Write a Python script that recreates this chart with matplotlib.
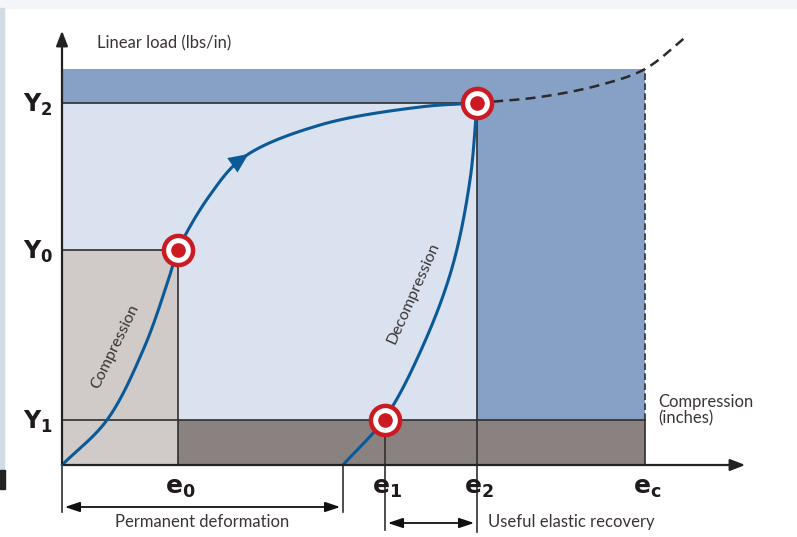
import matplotlib
matplotlib.use("Agg")
import matplotlib.pyplot as plt
from matplotlib.patches import Rectangle
import numpy as np

# strain positions (compression, arbitrary inches) and load levels
e_vals = {"e0": 1.16, "e1": 3.23, "e2": 4.15, "ec": 5.83}
e_perm = 2.81
Y_vals = {"Y1": 0.45, "Y0": 2.15, "Y2": 3.62}
Y_top = 3.96

# curves
comp_x = [0.0, 0.45, 0.82, 1.06, 1.16, 1.48, 1.82, 2.58, 3.58, 4.15]
comp_y = [0.0, 0.45, 1.17, 1.84, 2.15, 2.70, 3.08, 3.40, 3.58, 3.62]
decomp_x = [2.81, 3.23, 3.60, 3.90, 4.08, 4.15]
decomp_y = [0.0, 0.47, 1.17, 1.97, 2.85, 3.62]
dash_x = [4.15, 4.78, 5.38, 5.83, 6.25]
dash_y = [3.62, 3.68, 3.80, 3.96, 4.29]

TXT = "#3b3436"
BLUE = "#0b5a97"
RED = "#cc1a22"
LINE = "#2f2f2f"
plt.rcParams['font.family'] = ['Lato', 'DejaVu Sans']
plt.rcParams['mathtext.fontset'] = 'dejavusans'


def smooth(xs, ys, n=40):
    # centripetal catmull-rom through the read points, only for drawing
    p = np.column_stack([xs, ys]).astype(float)
    p = np.vstack([2 * p[0] - p[1], p, 2 * p[-1] - p[-2]])
    out = []
    for i in range(1, len(p) - 2):
        p0, p1, p2, p3 = p[i - 1], p[i], p[i + 1], p[i + 2]
        t0 = 0.0
        t1 = t0 + max(np.linalg.norm(p1 - p0), 1e-6) ** 0.5
        t2 = t1 + max(np.linalg.norm(p2 - p1), 1e-6) ** 0.5
        t3 = t2 + max(np.linalg.norm(p3 - p2), 1e-6) ** 0.5
        t = np.linspace(t1, t2, n, endpoint=False)[:, None]
        a1 = (t1 - t) / (t1 - t0) * p0 + (t - t0) / (t1 - t0) * p1
        a2 = (t2 - t) / (t2 - t1) * p1 + (t - t1) / (t2 - t1) * p2
        a3 = (t3 - t) / (t3 - t2) * p2 + (t - t2) / (t3 - t2) * p3
        b1 = (t2 - t) / (t2 - t0) * a1 + (t - t0) / (t2 - t0) * a2
        b2 = (t3 - t) / (t3 - t1) * a2 + (t - t1) / (t3 - t1) * a3
        out.append((t2 - t) / (t2 - t1) * b1 + (t - t1) / (t2 - t1) * b2)
    out.append(p[-2][None, :])
    out = np.vstack(out)
    return out[:, 0], out[:, 1]


fig = plt.figure(figsize=(7.97, 5.37), dpi=100)
ax = fig.add_axes([0, 0, 1, 1])
ax.set_xlim(-0.62, 7.35)
ax.set_ylim(-0.72, 4.65)
ax.axis('off')

# page edges
fig.patches.append(Rectangle((0, 0.985), 1, 0.015, transform=fig.transFigure, color="#f3f5f8", zorder=0))
fig.patches.append(Rectangle((0, 0.10), 0.005, 0.885, transform=fig.transFigure, color="#d3dbe5", zorder=0))
fig.patches.append(Rectangle((0, 0.09), 0.006, 0.035, transform=fig.transFigure, color="#222222", zorder=0))

e0, e1, e2, ec = e_vals["e0"], e_vals["e1"], e_vals["e2"], e_vals["ec"]
Y1, Y0, Y2 = Y_vals["Y1"], Y_vals["Y0"], Y_vals["Y2"]

# shaded regions
ax.add_patch(Rectangle((0, Y2), ec, Y_top - Y2, color="#87a0c5", lw=0))
ax.add_patch(Rectangle((0, Y1), e2, Y2 - Y1, color="#dae2ef", lw=0))
ax.add_patch(Rectangle((e2, Y1), ec - e2, Y2 - Y1, color="#87a0c5", lw=0))
ax.add_patch(Rectangle((0, 0), e0, Y0, color="#d0cbc8", lw=0))
ax.add_patch(Rectangle((e0, 0), ec - e0, Y1, color="#8a8280", lw=0))

# grid lines
lw = 1.2
ax.plot([0, e2], [Y2, Y2], color=LINE, lw=lw)
ax.plot([0, e0], [Y0, Y0], color=LINE, lw=lw)
ax.plot([0, ec], [Y1, Y1], color=LINE, lw=lw)
ax.plot([e0, e0], [0, Y0], color=LINE, lw=lw)
ax.plot([e2, e2], [-0.67, Y2], color=LINE, lw=lw)
ax.plot([e1, e1], [-0.65, Y1], color=LINE, lw=lw)
ax.plot([ec, ec], [0, Y1], color=LINE, lw=lw)
ax.plot([ec, ec], [Y1, Y_top], color=LINE, lw=lw, ls=(0, (4, 2)))
ax.plot([e_perm, e_perm], [-0.47, 0], color=LINE, lw=lw)
ax.plot([0, 0], [-0.47, 0], color=LINE, lw=lw)

# axes with arrows
ax.annotate("", xy=(0, 4.37), xytext=(0, -0.01),
            arrowprops=dict(arrowstyle="-|>,head_length=0.9,head_width=0.35", color="#222222", lw=1.6))
ax.annotate("", xy=(6.86, 0), xytext=(-0.01, 0),
            arrowprops=dict(arrowstyle="-|>,head_length=0.9,head_width=0.35", color="#222222", lw=1.6))

# curves
cx, cy = smooth(comp_x, comp_y)
ax.plot(cx, cy, color=BLUE, lw=2.2, solid_capstyle='round')
dx, dy = smooth(decomp_x, decomp_y)
ax.plot(dx, dy, color=BLUE, lw=2.2, solid_capstyle='round')
sx, sy = smooth(dash_x, dash_y)
ax.plot(sx, sy, color="#2a2a2a", lw=1.8, ls=(0, (4, 2.5)))

# direction arrow on the compression curve
k = int(np.argmin(np.abs(cx - 1.86)))
ax.annotate("", xy=(cx[k], cy[k]), xytext=(cx[k - 6], cy[k - 6]),
            arrowprops=dict(arrowstyle="-|>,head_length=1.0,head_width=0.45", color=BLUE, lw=0.1,
                            mutation_scale=14, shrinkA=0, shrinkB=0))

# target markers
mx = [e0, e2, e1]
my = [Y0, Y2, Y1]
ax.plot(mx, my, 'o', ms=21, mfc="white", mec=RED, mew=3.2, zorder=5)
ax.plot(mx, my, 'o', ms=9.5, mfc=RED, mec=RED, zorder=6)

# labels
ax.text(0.35, 4.22, "Linear load (lbs/in)", color=TXT, fontsize=12, va='center', ha='left')
for name, yv in Y_vals.items():
    ax.text(-0.24, yv - 0.02, r"$\mathbf{Y}_{\mathbf{%s}}$" % name[1], color="#1f1a1c", fontsize=17,
            ha='center', va='center')
for name, xv in e_vals.items():
    ax.text(xv + 0.02, -0.24, r"$\mathbf{e}_{\mathbf{%s}}$" % name[1], color="#1f1a1c", fontsize=18,
            ha='center', va='center')

ax.text(5.96, 0.55, "Compression\n(inches)", color=TXT, fontsize=12, ha='left', va='center', linespacing=1.0)
ax.text(0.53, 1.18, "Compression", color=TXT, fontsize=11.5, rotation=64, ha='center', va='center')
ax.text(3.51, 1.72, "Decompression", color=TXT, fontsize=11.5, rotation=66, ha='center', va='center')

# dimension arrows
ax.annotate("", xy=(0, -0.42), xytext=(e_perm, -0.42),
            arrowprops=dict(arrowstyle="<|-|>,head_length=0.9,head_width=0.3", color="#111111", lw=1.3))
ax.annotate("", xy=(e1, -0.58), xytext=(e2, -0.58),
            arrowprops=dict(arrowstyle="<|-|>,head_length=0.9,head_width=0.3", color="#111111", lw=1.3))
ax.text(1.40, -0.57, "Permanent deformation", color=TXT, fontsize=12, ha='center', va='center')
ax.text(4.26, -0.57, "Useful elastic recovery", color=TXT, fontsize=12, ha='left', va='center')

fig.savefig("out.png", dpi=100)
